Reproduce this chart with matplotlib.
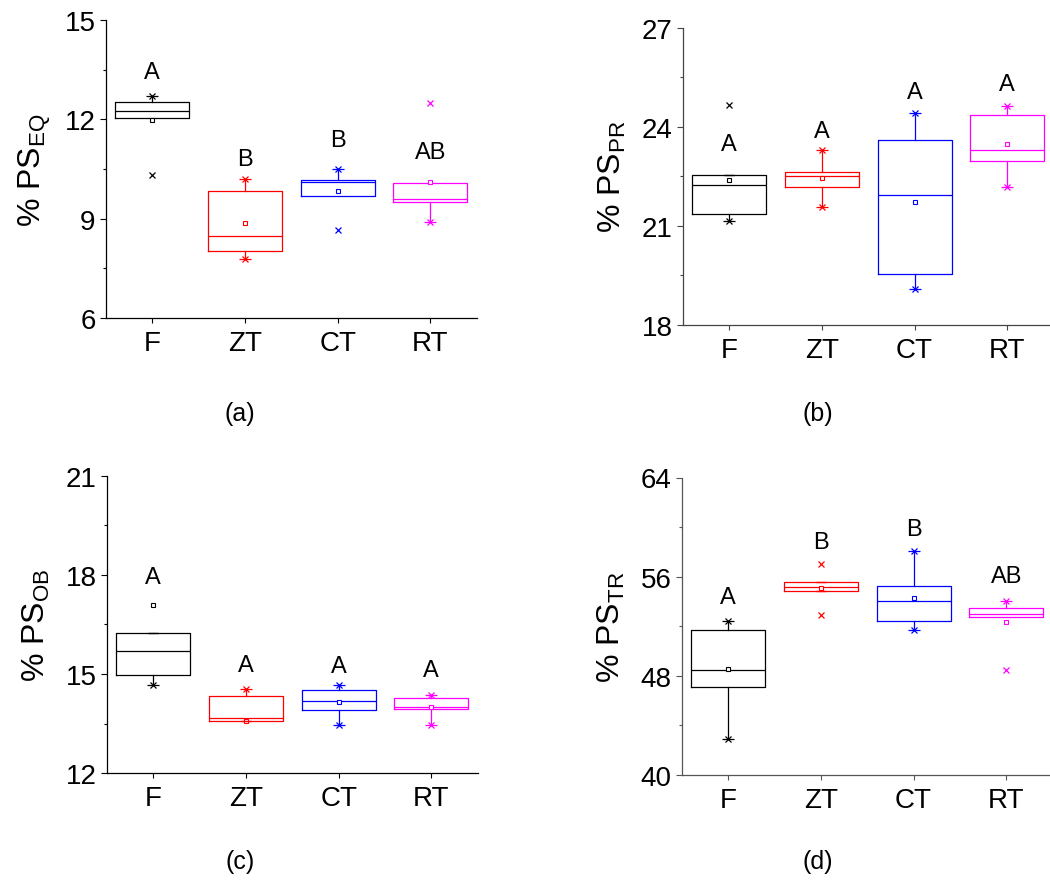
import matplotlib
matplotlib.use("Agg")
import matplotlib.pyplot as plt
from matplotlib.ticker import MultipleLocator

plt.rcParams["font.family"] = ["Liberation Sans", "DejaVu Sans"]
plt.rcParams["mathtext.fontset"] = "custom"
plt.rcParams["mathtext.rm"] = "Liberation Sans"

GROUPS = ["F", "ZT", "CT", "RT"]
COLORS = ["black", "red", "blue", "magenta"]

# ── Box statistics: (q1, median, q3, whisker low, whisker high, mean) ───────
EQ_BOX = [(12.03, 12.24, 12.52, 12.03, 12.69, 11.97),
          (8.03, 8.48, 9.85, 7.78, 10.21, 8.87),
          (9.69, 10.12, 10.18, 9.69, 10.51, 9.84),
          (9.50, 9.59, 10.07, 8.90, 10.07, 10.11)]
EQ_STAR = [[12.69], [10.21, 7.78], [10.51], [8.90]]
EQ_CROSS = [[10.33], [], [8.65], [12.50]]
EQ_DASH = [[], [], [], []]
EQ_LETTERS = ["A", "B", "B", "AB"]
EQ_LETTER_Y = [13.43, 10.80, 11.38, 11.02]

PR_BOX = [(21.35, 22.24, 22.54, 21.15, 22.54, 22.38),
          (22.17, 22.50, 22.62, 21.56, 23.29, 22.44),
          (19.54, 21.92, 23.60, 19.08, 24.42, 21.71),
          (22.95, 23.28, 24.36, 22.18, 24.63, 23.48)]
PR_STAR = [[21.15], [23.29, 21.56], [24.42, 19.08], [24.63, 22.18]]
PR_CROSS = [[24.65], [], [], []]
PR_DASH = [[22.54], [], [], []]
PR_LETTERS = ["A", "A", "A", "A"]
PR_LETTER_Y = [23.48, 23.88, 25.04, 25.29]

OB_BOX = [(14.97, 15.69, 16.25, 14.68, 16.25, 17.09),
          (13.58, 13.68, 14.33, 13.58, 14.54, 13.58),
          (13.92, 14.18, 14.53, 13.45, 14.68, 14.15),
          (13.93, 14.01, 14.28, 13.47, 14.37, 14.01)]
OB_STAR = [[14.68], [14.54], [14.68, 13.45], [14.37, 13.47]]
OB_CROSS = [[], [], [], []]
OB_DASH = [[16.25], [13.58], [], []]
OB_LETTERS = ["A", "A", "A", "A"]
OB_LETTER_Y = [17.94, 15.28, 15.23, 15.13]

TR_BOX = [(47.12, 48.47, 51.67, 42.90, 52.44, 48.52),
          (54.81, 55.13, 55.59, 54.81, 55.59, 55.08),
          (52.44, 54.01, 55.24, 51.67, 58.06, 54.27),
          (52.72, 53.01, 53.49, 52.72, 54.06, 52.37)]
TR_STAR = [[52.44, 42.90], [], [58.06, 51.67], [54.06]]
TR_CROSS = [[], [57.04, 52.93], [], [48.47]]
TR_DASH = [[], [55.59, 54.81], [], []]
TR_LETTERS = ["A", "B", "B", "AB"]
TR_LETTER_Y = [54.38, 58.77, 59.84, 56.02]


def panel(ax, box, stars, crosses, dashes, letters, letter_y,
          ylim, step, sub, spine_color):
    pos = list(range(1, len(GROUPS) + 1))
    stats = [dict(q1=b[0], med=b[1], q3=b[2], whislo=b[3], whishi=b[4],
                  mean=b[5], fliers=[]) for b in box]
    art = ax.bxp(stats, positions=pos, widths=0.8, showmeans=True,
                 showcaps=False, showfliers=False, patch_artist=False,
                 manage_ticks=False)
    for i, c in enumerate(COLORS):
        art["boxes"][i].set(color=c, lw=0.9)
        art["medians"][i].set(color=c, lw=0.9)
        for w in art["whiskers"][2 * i:2 * i + 2]:
            w.set(color=c, lw=0.9)
        art["means"][i].set(marker="s", markersize=3.2, markerfacecolor="white",
                            markeredgecolor=c, markeredgewidth=0.8)
        p = pos[i]
        for v in stars[i]:
            ax.plot([p], [v], marker="x", ms=5, mew=0.9, color=c, zorder=4)
            ax.plot([p], [v], marker="_", ms=9, mew=0.9, color=c, zorder=4)
        for v in crosses[i]:
            ax.plot([p], [v], marker="x", ms=4, mew=0.9, color=c, zorder=4)
        for v in dashes[i]:
            ax.plot([p], [v], marker="_", ms=7, mew=1.0, color=c, zorder=4)
        ax.text(p, letter_y[i], letters[i], ha="center", va="center",
                fontsize=17, color="black")

    ax.set_xlim(0.5, 4.5)
    ax.set_ylim(*ylim)
    ax.set_xticks(pos)
    ax.set_xticklabels(GROUPS)
    ax.yaxis.set_major_locator(MultipleLocator(step))
    ax.yaxis.set_minor_locator(MultipleLocator(step / 2))
    for s in ("top", "right"):
        ax.spines[s].set_visible(False)
    for s in ("left", "bottom"):
        ax.spines[s].set_color(spine_color)
        ax.spines[s].set_linewidth(0.9)
    ax.tick_params(axis="y", which="major", direction="out", length=4.5,
                   width=0.8, labelsize=20, pad=3, color=spine_color)
    ax.tick_params(axis="y", which="minor", direction="out", length=2.5,
                   width=0.8, color=spine_color)
    ax.tick_params(axis="x", which="major", direction="out", length=3.5,
                   width=0.8, labelsize=20, pad=5, color=spine_color)
    ax.text(-0.19, 0.5, r"% PS$_{\mathregular{" + sub + "}}$",
            transform=ax.transAxes, rotation=90, ha="center", va="center",
            fontsize=23)


W, H = 1050, 887
fig = plt.figure(figsize=(W / 100, H / 100), dpi=100)

ax_w = 370.6 / W
ax_a = fig.add_axes([106 / W, 1 - 319 / H, ax_w, 298 / H])
ax_b = fig.add_axes([683 / W, 1 - 325.7 / H, ax_w, 297 / H])
ax_c = fig.add_axes([107 / W, 1 - 774.3 / H, ax_w, 297.6 / H])
ax_d = fig.add_axes([682 / W, 1 - 776 / H, ax_w, 297.5 / H])

panel(ax_a, EQ_BOX, EQ_STAR, EQ_CROSS, EQ_DASH, EQ_LETTERS, EQ_LETTER_Y,
      (6, 15), 3, "EQ", "black")
panel(ax_b, PR_BOX, PR_STAR, PR_CROSS, PR_DASH, PR_LETTERS, PR_LETTER_Y,
      (18, 27), 3, "PR", "#444444")
panel(ax_c, OB_BOX, OB_STAR, OB_CROSS, OB_DASH, OB_LETTERS, OB_LETTER_Y,
      (12, 21), 3, "OB", "black")
panel(ax_d, TR_BOX, TR_STAR, TR_CROSS, TR_DASH, TR_LETTERS, TR_LETTER_Y,
      (40, 64), 8, "TR", "#555555")

for lbl, x, y in [("(a)", 240, 414), ("(b)", 818, 414),
                  ("(c)", 240, 862), ("(d)", 818, 862)]:
    fig.text(x / W, 1 - y / H, lbl, ha="center", va="center", fontsize=18)

fig.savefig("out.png", dpi=100)
